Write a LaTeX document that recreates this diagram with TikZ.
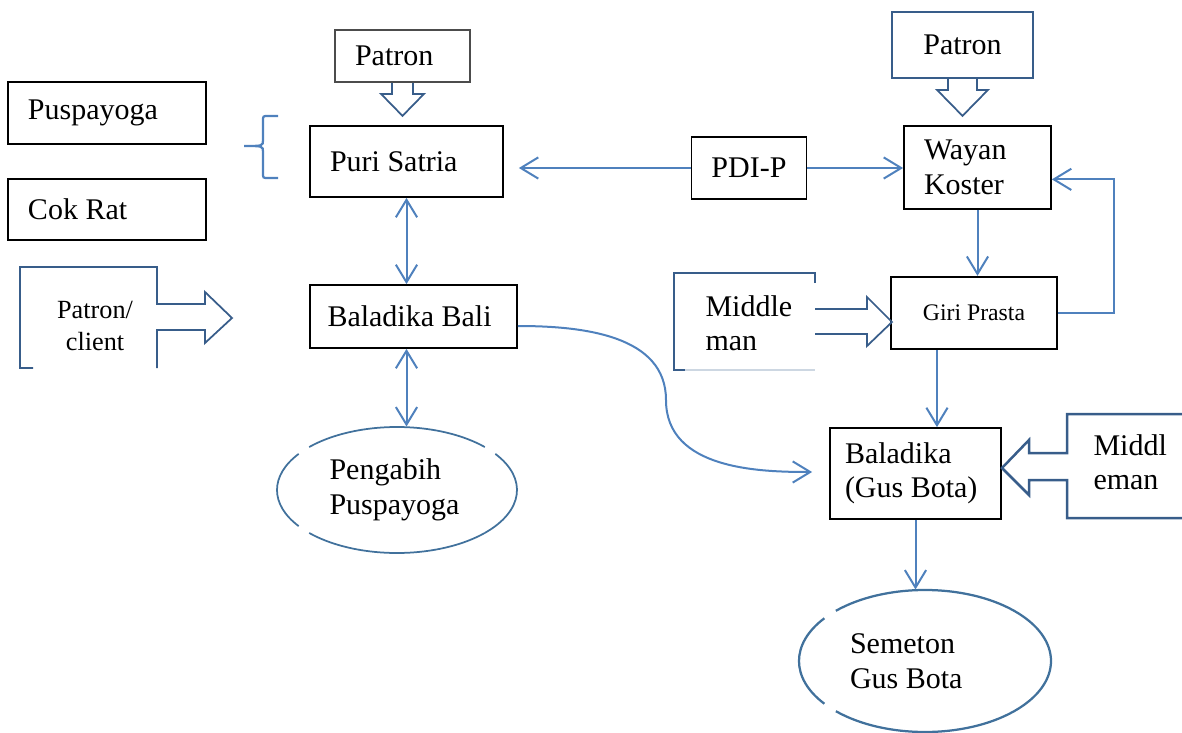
\documentclass[tikz,border=0pt]{standalone}
\usepackage{fontspec}
\setmainfont{Liberation Serif}
\usetikzlibrary{positioning, shapes.geometric, arrows.meta, calc}

\definecolor{linkblue}{HTML}{4F81BD}
\definecolor{calloutblue}{HTML}{385D8A}
\definecolor{ovalblue}{HTML}{41719C}

\begin{document}
\begin{tikzpicture}[
            x=0.4pt, y=-0.4pt, % one unit is one pixel of the sketch
            font=\fontsize{12}{13.8}\selectfont,
            block/.style={rectangle, draw, line width=0.7pt, align=flush left, inner xsep=8pt, inner ysep=0pt},
            oval/.style={ellipse, inner sep=0pt, align=flush left},
            ovalline/.style={draw=ovalblue, line width=0.7pt},
            link/.style={draw=linkblue, line width=0.8pt},
            callout/.style={draw=calloutblue, line width=0.7pt, line join=miter},
            >={Straight Barb[length=7pt, width=8.5pt]}
        ]
        \useasboundingbox (0,0) rectangle (1182,733);

        % Nodes
        \node[block, text width=63.2pt, minimum height=24.8pt] (puspayoga) at (107,113) {Puspayoga};
        \node[block, text width=63.2pt, minimum height=24.4pt] (cokrat) at (107,209.5) {Cok Rat};
        \node[block, text width=61.2pt, minimum height=28.4pt] (satria) at (406.5,161.5) {Puri Satria};
        \node[block, minimum width=45.6pt, minimum height=24.8pt] (pdip) at (749,168) {PDI-P};
        \node[block, text width=42.8pt, minimum height=33.2pt] (koster) at (977.5,167.5) {Wayan\\Koster};
        \node[block, inner xsep=7pt, text width=68.8pt, minimum height=25.2pt] (bali) at (413.5,316.5) {Baladika Bali};
        \node[block, line width=0.9pt, align=flush center, minimum width=66.4pt, minimum height=28.8pt,
              font=\fontsize{9.5}{11}\selectfont] (giri) at (974,313) {Giri Prasta};
        \node[block, inner xsep=6pt, text width=56.4pt, minimum height=36.4pt] (gusbota) at (915.5,473.5) {Baladika\\(Gus Bota)};
        \node[oval, text width=54pt, minimum width=96pt, minimum height=50.4pt] (pengabih) at (397,490) {Pengabih\\Puspayoga};
        \node[oval, text width=60pt, minimum width=100.8pt, minimum height=56.8pt] (semeton) at (925,661) {Semeton\\Gus Bota};

        % Ellipse outlines (broken in places)
        \foreach \a/\b in {43/137, 145/215, 223/317, 325/403}
            \draw[ovalline] ($(pengabih.center)+(\a:120 and 63)$) arc[start angle=\a, end angle=\b, x radius=120, y radius=63];
        \foreach \a/\b in {143/217, 225/495}
            \draw[ovalline, line width=0.9pt] ($(semeton.center)+(\a:126 and 71)$) arc[start angle=\a, end angle=\b, x radius=126, y radius=71];

        % Callouts
        \node[block, draw=black!70, text width=38pt, minimum height=20.8pt] (patronl) at (402.5,56) {Patron};
        \draw[callout] (patronl.south) ++(-10.5,0) -- ++(0,11) -- ++(-11,0) -- ++(21.5,22) -- ++(21.5,-22) -- ++(-11,0) -- ++(0,-11);

        \node[block, draw=calloutblue, minimum width=56.4pt, minimum height=26.4pt] (patronr) at (962.5,45) {Patron};
        \draw[callout] (patronr.south) ++(-14.5,0) -- ++(0,11) -- ++(-11,0) -- ++(25.5,26) -- ++(25.5,-26) -- ++(-11,0) -- ++(0,-11);

        \node[align=flush center, font=\fontsize{10.5}{12.8}\selectfont] (patronclient) at (95,326) {Patron/\\client};
        \draw[callout] (33,368) -- (20,368) -- (20,267) -- (157,267) -- (157,304) -- (205,304) -- (205,292)
            -- (232,318) -- (205,343) -- (205,330) -- (157,330) -- (157,368);

        \node[align=flush left, anchor=west, inner sep=0pt] (middleman) at (705,323) {Middle\\man};
        \draw[callout] (815,283) -- (815,273) -- (674,273) -- (674,370) -- (685,370);
        \draw[callout, draw=calloutblue!25] (685,370) -- (815,370);
        \draw[callout] (815,309) -- (867,309) -- (867,297) -- (892,322) -- (867,346) -- (867,334) -- (815,334);

        \node[align=flush left, anchor=west, inner sep=0pt] (middleman2) at (1093,462) {Middl\\eman};
        \draw[callout, line width=1pt] (1182,414) -- (1067,414) -- (1067,453) -- (1029,453) -- (1029,440)
            -- (1002,468) -- (1029,495) -- (1029,480) -- (1067,480) -- (1067,518) -- (1182,518);

        % Brace
        \draw[link, line width=0.9pt] (278,116) -- (268,116) .. controls (263,116) .. (263,121) -- (263,140)
            .. controls (263,146) .. (244,146) .. controls (263,146) .. (263,152) -- (263,173)
            .. controls (263,178) .. (268,178) -- (278,178);

        % Connections
        \coordinate (girifoot) at ($(giri.south west)!0.28!(giri.south east)$);
        \coordinate (bend) at (666,400);
        \draw[link, <->] (satria.south) -- (satria.south |- bali.north);
        \draw[link, <->] (satria.south |- bali.south) -- (satria.south |- pengabih.north);
        \draw[link, ->, shorten >=6pt] (pdip.west) -- (pdip.west -| satria.east);
        \draw[link, ->] (pdip.east) -- (pdip.east -| koster.west);
        \draw[link, ->] (koster.south) -- (koster.south |- giri.north);
        \draw[link, ->] (giri.east) -- ++(56,0) |- ($(koster.north east)!0.64!(koster.south east)$);
        \draw[link, ->] (girifoot) -- (girifoot |- gusbota.north);
        \draw[link, ->] (gusbota.south) -- (gusbota.south |- semeton.north);
        \draw[link, ->, shorten >=6.8pt] ([yshift=-3.8pt]bali.east) to[out=0, in=90] (bend)
            to[out=-90, in=180] ([yshift=0.6pt]gusbota.west);

\end{tikzpicture}
\end{document}
